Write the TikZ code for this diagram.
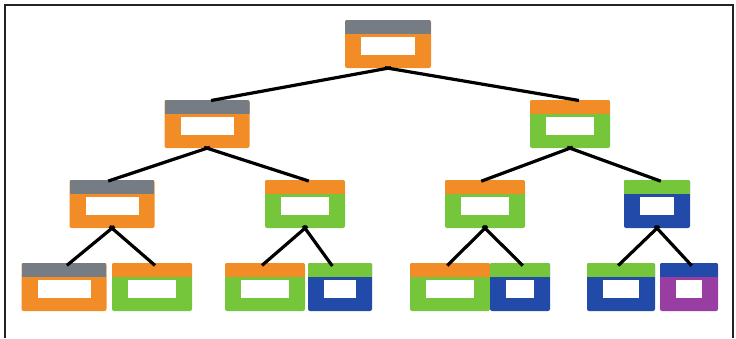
\documentclass[tikz,border=0pt]{standalone}
\usetikzlibrary{calc}
\definecolor{cgray}{RGB}{118,124,132}
\definecolor{corange}{RGB}{242,140,38}
\definecolor{cgreen}{RGB}{118,198,60}
\definecolor{cblue}{RGB}{34,74,168}
\definecolor{cpurple}{RGB}{152,62,162}
\definecolor{cframe}{RGB}{35,35,35}
\tikzset{
  tn/.style n args={3}{rectangle, draw=none, fill=#3, minimum width=#1*1pt, minimum height=48pt,
    inner sep=0pt, rounded corners=2pt,
    path picture={
      \fill[#2, sharp corners] (path picture bounding box.north west) rectangle ([yshift=-14pt]path picture bounding box.north east);
      \fill[white, sharp corners] ([xshift={(-#1/2+16)*1pt}, yshift=7pt]path picture bounding box.center)
        rectangle ([xshift={(#1/2-16)*1pt}, yshift=-11pt]path picture bounding box.center);
    }},
  link/.style={line width=3.2pt, black, shorten <=-3pt, shorten >=-4pt},
  frameline/.style={line width=1.6pt, cframe}
}
\begin{document}
\begin{tikzpicture}[x=1pt,y=-1pt]
\useasboundingbox (0,0) rectangle (736,338);
\coordinate (f1) at (5,338);
\coordinate (f2) at (5,5);
\coordinate (f3) at (733,5);
\coordinate (f4) at (733,338);
\draw[frameline] (f1) -- (f2) -- (f3) -- (f4);
% level 1
\node[tn={86}{cgray}{corange}] (r) at (388,44) {};
% level 2
\node[tn={85}{cgray}{corange}] (a) at (207,124) {};
\node[tn={80}{corange}{cgreen}] (b) at (570,124) {};
% level 3
\node[tn={85}{cgray}{corange}] (aa) at (112,204) {};
\node[tn={80}{corange}{cgreen}] (ab) at (305,204) {};
\node[tn={80}{corange}{cgreen}] (ba) at (485,204) {};
\node[tn={66}{cgreen}{cblue}] (bb) at (657,204) {};
% level 4
\node[tn={85}{cgray}{corange}] (aaa) at (64,287) {};
\node[tn={80}{corange}{cgreen}] (aab) at (152,287) {};
\node[tn={80}{corange}{cgreen}] (aba) at (265,287) {};
\node[tn={64}{cgreen}{cblue}] (abb) at (340,287) {};
\node[tn={80}{corange}{cgreen}] (baa) at (450,287) {};
\node[tn={60}{cgreen}{cblue}] (bab) at (520,287) {};
\node[tn={68}{cgreen}{cblue}] (bba) at (621,287) {};
\node[tn={58}{cblue}{cpurple}] (bbb) at (689,287) {};
% connectors
\draw[link] (r.south) -- ([xshift=8pt]a.north);
\draw[link] (r.south) -- ([xshift=5pt]b.north);
\draw[link] (a.south) -- (aa.north);
\draw[link] (a.south) -- (ab.north);
\draw[link] (b.south) -- (ba.north);
\draw[link] (b.south) -- (bb.north);
\draw[link] (aa.south) -- ([xshift=6pt]aaa.north);
\draw[link] (aa.south) -- (aab.north);
\draw[link] (ab.south) -- (aba.north);
\draw[link] (ab.south) -- ([xshift=-10pt]abb.north);
\draw[link] (ba.south) -- (baa.north);
\draw[link] (ba.south) -- (bab.north);
\draw[link] (bb.south) -- (bba.north);
\draw[link] (bb.south) -- (bbb.north);
\end{tikzpicture}
\end{document}
